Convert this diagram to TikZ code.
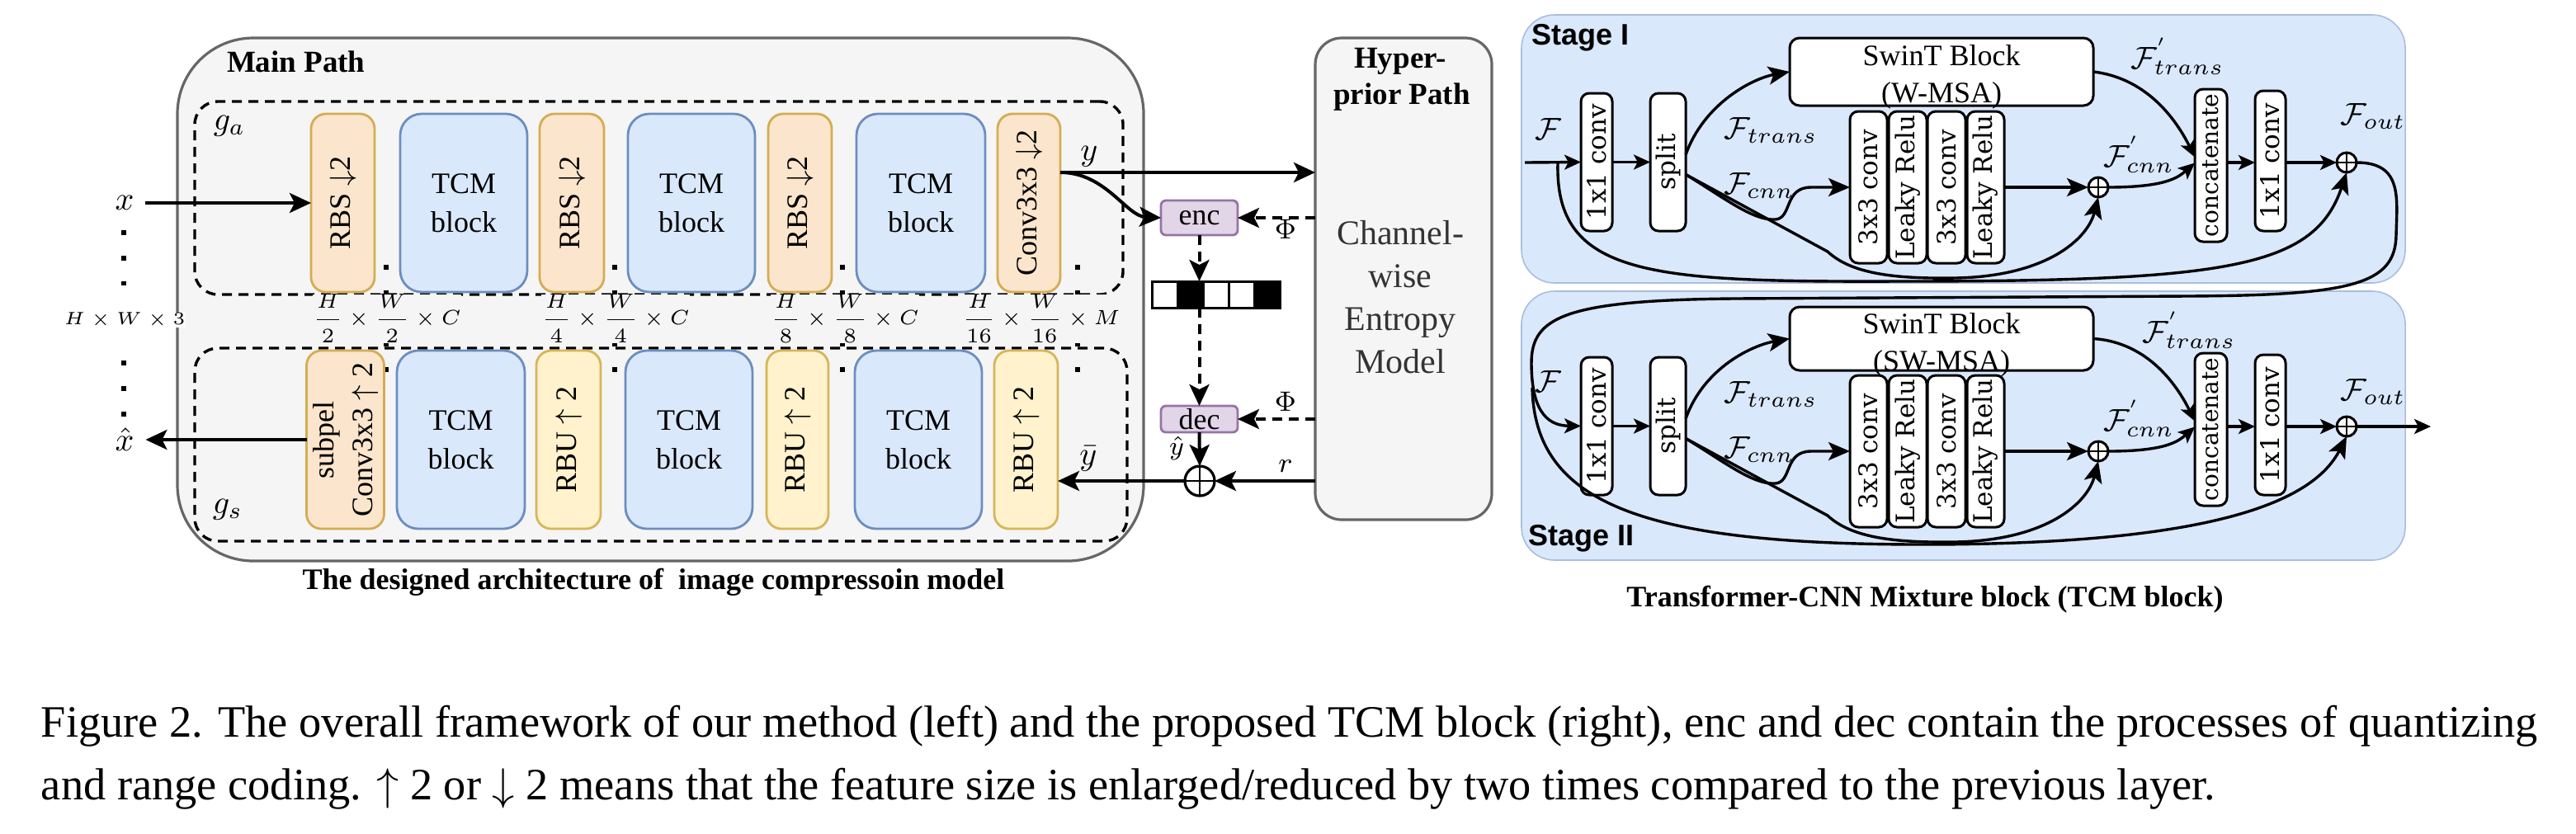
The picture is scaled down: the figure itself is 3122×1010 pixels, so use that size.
\RequirePackage{fix-cm}
\documentclass[tikz,border=0pt]{standalone}
\usepackage[no-math]{fontspec}
\setmainfont{Liberation Serif}
\newfontfamily\dvsfont{DejaVu Serif}
\newfontfamily\lsansfont{Liberation Sans}
\usetikzlibrary{arrows.meta,calc}
\definecolor{mainfill}{HTML}{F5F5F5}
\definecolor{maindraw}{HTML}{666666}
\definecolor{rbsf}{HTML}{FBE5CC}
\definecolor{rbsd}{HTML}{D5AC52}
\definecolor{rbuf}{HTML}{FFF2CC}
\definecolor{rbud}{HTML}{D6B656}
\definecolor{tcmf}{HTML}{DAE8FC}
\definecolor{tcmd}{HTML}{6C8EBF}
\definecolor{encf}{HTML}{E1D5E7}
\definecolor{encd}{HTML}{9673A6}
\definecolor{stf}{HTML}{DAE8FC}
\definecolor{std}{HTML}{A9BEDD}
\definecolor{txtg}{HTML}{333333}
\newcommand{\fnine}{\fontsize{9}{11.75}\selectfont}
\newcommand{\bx}[7]{\node[#6, minimum width={((#4)-(#2))*0.25pt}, minimum height={((#5)-(#3))*0.25pt}] (#1) at ({((#2)+(#4))/2},{((#3)+(#5))/2}) {#7};}
\tikzset{
 every node/.style={inner sep=0pt, outer sep=0pt},
 outerbox/.style={draw=maindraw, fill=mainfill, line width=0.8pt, rounded corners=23pt},
 dbox/.style={draw=black, line width=0.85pt, dash pattern=on 3pt off 2pt, rounded corners=7pt},
 rbsbox/.style={draw=rbsd, fill=rbsf, line width=0.7pt, rounded corners=4.5pt, font=\fnine},
 rbubox/.style={draw=rbud, fill=rbuf, line width=0.7pt, rounded corners=4.5pt, font=\fnine},
 tcmbox/.style={draw=tcmd, fill=tcmf, line width=0.7pt, rounded corners=6.5pt, font=\fnine, align=center},
 encbox/.style={draw=encd, fill=encf, line width=0.7pt, rounded corners=1.5pt, font=\fnine},
 hypbox/.style={draw=maindraw, fill=mainfill, line width=0.8pt, rounded corners=8pt},
 stagebox/.style={draw=std, fill=stf, line width=0.4pt, rounded corners=10pt},
 sbox/.style={draw=black, fill=white, line width=0.75pt, rounded corners=2.5pt, font=\dvsfont\fontsize{7.75}{9}\selectfont},
 swbox/.style={draw=black, fill=white, line width=0.75pt, rounded corners=3pt},
 pls/.style={circle, draw=black, fill=white, line width=0.75pt, minimum size=6pt,
   path picture={\draw[line width=0.6pt] (path picture bounding box.north) -- (path picture bounding box.south) (path picture bounding box.west) -- (path picture bounding box.east);}},
 bigpls/.style={pls, minimum size=9pt, line width=0.8pt},
 mlbl/.style={font=\fontsize{10}{12}\selectfont},
 flbl/.style={font=\fontsize{9.5}{11}\selectfont},
 dimlbl/.style={font=\fontsize{6.25}{7.5}\selectfont, fill=mainfill},
 arr/.style={line width=1pt, -{Stealth[length=6.5pt,width=6pt,inset=1.5pt]}},
 darr/.style={arr, dash pattern=on 3pt off 2pt},
 sarr/.style={line width=0.85pt, -{Stealth[length=5pt,width=4.5pt,inset=1.2pt]}},
 sarrb/.style={line width=0.85pt, -{Stealth[length=6.5pt,width=5.5pt,inset=1.5pt]}},
 dotcol/.style={line width=1.4pt, dash pattern=on 1.4pt off 6.35pt},
 capbf/.style={font=\bfseries\fontsize{9}{11}\selectfont},
 hyptxt/.style={font=\fontsize{10.5}{12}\selectfont, text=txtg, anchor=base},
 hypbf/.style={font=\bfseries\fontsize{9.25}{11}\selectfont, anchor=base},
 stlbl/.style={font=\lsansfont\bfseries\fontsize{9}{10}\selectfont, anchor=base west},
}
% #1 suffix, #2 vertical offset, #3 second SwinT line, #4 text offset, #5 SwinT top, #6 SwinT bottom
\newcommand{\stagecontent}[6]{%
\begin{scope}[shift={(0,#2)}]
\bx{ca#1}{1916}{113}{1954}{280}{sbox}{\rotatebox{90}{1x1 conv}}
\bx{sp#1}{2000}{113}{2043}{280}{sbox}{\rotatebox{90}{split}}
\bx{sw#1}{2169}{#5}{2537}{#6}{swbox}{}
\node[font=\fontsize{9}{11.25}\selectfont, align=center] (swt#1) at (2353,{(#5+#6)/2+#4}) {SwinT Block\\#3};
\bx{c1#1}{2242}{135}{2287}{319}{sbox}{\rotatebox{90}{3x3 conv}}
\bx{l1#1}{2289}{135}{2335}{319}{sbox}{\rotatebox{90}{Leaky Relu}}
\bx{c2#1}{2336}{135}{2382}{319}{sbox}{\rotatebox{90}{3x3 conv}}
\bx{l2#1}{2384}{135}{2429}{319}{sbox}{\rotatebox{90}{Leaky Relu}}
\bx{cc#1}{2660}{108}{2699}{293}{sbox}{\rotatebox{90}{\fontsize{7}{8}\selectfont concatenate}}
\bx{cb#1}{2733}{110}{2770}{280}{sbox}{\rotatebox{90}{1x1 conv}}
\node[pls] (p1#1) at (2543,227) {};
\node[pls] (p2#1) at (2844,197) {};
\node[flbl] (ftr#1) at (2146,158) {$\mathcal{F}_{trans}$};
\node[flbl] (fcn#1) at (2132,225) {$\mathcal{F}_{cnn}$};
\node[flbl] (fcp#1) at (2592,187) {$\mathcal{F}^{'}_{cnn}$};
\draw[sarr] (ca#1.east) -- (sp#1.west);
\draw[sarrb] ($(sp#1.east)+(0,-9)$) .. controls +(22,-62) and +(-45,8) .. (sw#1.west);
\draw[sarrb] ($(sp#1.east)+(0,15)$) .. controls (2090,240) and (2125,268) .. (2152,266) .. controls (2172,264) and (2162,227) .. (2195,227) -- (c1#1.west);
\draw[sarrb] ($(sp#1.east)+(0,15)$) -- (2215,305) .. controls (2245,333) and (2300,338) .. (2370,337) .. controls (2480,335) and (2530,290) .. (p1#1.south);
\draw[sarrb] (l2#1.east) -- (p1#1.west);
\draw[sarr] (p1#1.east) .. controls (2625,227) and (2640,215) .. ($(cc#1.west)+(0,-3)$);
\draw[sarr] (sw#1.east) .. controls (2605,95) and (2640,150) .. ($(cc#1.west)+(0,-10)$);
\draw[sarr] (cc#1.east |- p2#1.west) -- (cb#1.west |- p2#1.west);
\draw[sarr] (cb#1.east |- p2#1.west) -- (p2#1.west);
\end{scope}}
\begin{document}
\begin{tikzpicture}[x=0.25pt,y=-0.25pt]
\fill[white] (0,0) rectangle (3122,1010);
\useasboundingbox (0,0) rectangle (3122,1010);
% ---------- main path ----------
\bx{mainp}{215}{46}{1386}{680}{outerbox}{}
\node[font=\bfseries\fontsize{9.25}{11}\selectfont, anchor=base west] (mpl) at (275,87) {Main Path};
\bx{gab}{236}{123}{1361}{357}{dbox}{}
\bx{gsb}{236}{422}{1366}{656}{dbox}{}
\node[mlbl] (ga) at (278,153) {$g_a$};
\node[mlbl] (gs) at (276,618) {$g_s$};
\foreach \cx in {468,745,1021,1306} \draw[dotcol] (\cx,321) -- (\cx,452);
\draw[dotcol] (150,279) -- (150,346);
\draw[dotcol] (150,437) -- (150,505);
\node[dimlbl] (d1) at (469,386) {$\displaystyle\frac{H}{2}\times\frac{W}{2}\times C$};
\node[dimlbl] (d2) at (746,386) {$\displaystyle\frac{H}{4}\times\frac{W}{4}\times C$};
\node[dimlbl] (d3) at (1024,386) {$\displaystyle\frac{H}{8}\times\frac{W}{8}\times C$};
\node[dimlbl] (d4) at (1262,386) {$\displaystyle\frac{H}{16}\times\frac{W}{16}\times M$};
\node[font=\fontsize{5.4}{6.5}\selectfont, fill=white] (hw3) at (151,388) {$H\times W\times 3$};
% top row
\bx{rbsA}{377}{138}{454}{354}{rbsbox}{\rotatebox{90}{RBS $\downarrow$2}}
\bx{tcmA}{485}{138}{639}{354}{tcmbox}{TCM\\block}
\bx{rbsB}{654}{138}{732}{354}{rbsbox}{\rotatebox{90}{RBS $\downarrow$2}}
\bx{tcmB}{761}{138}{915}{354}{tcmbox}{TCM\\block}
\bx{rbsC}{931}{138}{1008}{354}{rbsbox}{\rotatebox{90}{RBS $\downarrow$2}}
\bx{tcmC}{1038}{138}{1194}{354}{tcmbox}{TCM\\block}
\bx{conv}{1209}{138}{1285}{354}{rbsbox}{\rotatebox{90}{Conv3x3 $\downarrow$2}}
% bottom row
\bx{subp}{374}{425}{463}{641}{rbsbox}{\rotatebox{90}{\begin{tabular}{@{}c@{}}subpel\\Conv3x3 $\uparrow$ 2\end{tabular}}}
\bx{tcmD}{481}{425}{636}{641}{tcmbox}{TCM\\block}
\bx{rbuA}{650}{425}{728}{641}{rbubox}{\rotatebox{90}{RBU $\uparrow$ 2}}
\bx{tcmE}{758}{425}{912}{641}{tcmbox}{TCM\\block}
\bx{rbuB}{929}{425}{1004}{641}{rbubox}{\rotatebox{90}{RBU $\uparrow$ 2}}
\bx{tcmF}{1036}{425}{1190}{641}{tcmbox}{TCM\\block}
\bx{rbuC}{1205}{425}{1282}{641}{rbubox}{\rotatebox{90}{RBU $\uparrow$ 2}}
% in / out
\node[mlbl, inner xsep=3.5pt] (xl) at (151,246) {$x$};
\node[mlbl, inner xsep=3.5pt] (xh) at (151,533) {$\hat{x}$};
\draw[arr] (xl.east) -- (rbsA.west);
\draw[arr] (subp.west) -- (xh.east);
% hyperprior
\bx{hyper}{1594}{46}{1808}{630}{hypbox}{}
\node[hypbf] (hp1) at (1697,82) {Hyper-};
\node[hypbf] (hp2) at (1699,126) {prior Path};
\node[hyptxt] (ce1) at (1697,296) {Channel-};
\node[hyptxt] (ce2) at (1697,348) {wise};
\node[hyptxt] (ce3) at (1697,400) {Entropy};
\node[hyptxt] (ce4) at (1697,452) {Model};
\bx{enc}{1407}{243}{1500}{285}{encbox}{enc}
\bx{dec}{1407}{492}{1500}{524}{encbox}{dec}
\bx{b1}{1396}{341}{1427}{373}{draw=black,line width=0.75pt,fill=white}{}
\bx{b2}{1427}{341}{1458}{373}{draw=black,line width=0.75pt,fill=black}{}
\bx{b3}{1458}{341}{1489}{373}{draw=black,line width=0.75pt,fill=white}{}
\bx{b4}{1489}{341}{1520}{373}{draw=black,line width=0.75pt,fill=white}{}
\bx{b5}{1520}{341}{1551}{373}{draw=black,line width=0.75pt,fill=black}{}
\node[bigpls] (pl) at (1454,583) {};
\coordinate (ypt) at ($(conv.east)+(0,-37)$);
\draw[arr] (ypt) -- (ypt -| hyper.west);
\draw[arr] (ypt) .. controls (1340,209) and (1365,262) .. (enc.west);
\node[mlbl] (yl) at (1320,190) {$y$};
\draw[darr] (hyper.west |- enc.east) -- (enc.east);
\node[font=\fontsize{8.5}{10}\selectfont] (phi1) at (1558,278) {$\Phi$};
\draw[darr] (enc.south) -- (enc.south |- b2.north);
\draw[darr] (enc.south |- b2.south) -- (dec.north);
\draw[darr] (hyper.west |- dec.east) -- (dec.east);
\node[font=\fontsize{8.5}{10}\selectfont] (phi2) at (1558,487) {$\Phi$};
\draw[arr] (dec.south) -- (pl.north);
\node[font=\fontsize{8}{9}\selectfont] (yhl) at (1426,543) {$\hat{y}$};
\draw[arr] (hyper.west |- pl.east) -- (pl.east);
\node[font=\fontsize{8.5}{10}\selectfont] (rl) at (1558,565) {$r$};
\draw[arr] (pl.west) -- (pl.west -| rbuC.east);
\node[mlbl] (ybl) at (1319,556) {$\bar{y}$};
\node[capbf] (cap1) at (792,706) {The designed architecture of~ image compressoin model};
% ---------- TCM block ----------
\bx{stA}{1844}{18}{2915}{343}{stagebox}{}
\bx{stB}{1844}{353}{2915}{679}{stagebox}{}
\node[stlbl] (sl1) at (1856,54) {Stage I};
\node[stlbl] (sl2) at (1852,661) {Stage II};
\stagecontent{A}{0}{(W-MSA)}{6}{46}{128}
\stagecontent{B}{320}{(SW-MSA)}{7.5}{52}{129}
\node[flbl] (fA) at (1876,156) {$\mathcal{F}$};
\node[flbl] (fB) at (1876,462) {$\mathcal{F}$};
\node[flbl] (ftpA) at (2639,68) {$\mathcal{F}^{'}_{trans}$};
\node[flbl] (ftpB) at (2653,400) {$\mathcal{F}^{'}_{trans}$};
\node[flbl] (foA) at (2876,141) {$\mathcal{F}_{out}$};
\node[flbl] (foB) at (2876,475) {$\mathcal{F}_{out}$};
\coordinate (inA) at (1848,197);
\draw[sarr] (inA) -- (caA.west);
\coordinate (brA) at (1888,197);
\draw[sarrb] (brA) .. controls (1884,335) and (2000,342) .. (2300,341) .. controls (2700,341) and (2805,325) .. (p2A.south);
\draw[sarr] (p2A.east) .. controls (2912,197) and (2905,240) .. (2904,285) .. controls (2903,345) and (2850,358) .. (2650,359) -- (2100,362) .. controls (1895,364) and (1856,385) .. (1856,440) .. controls (1856,505) and (1880,516) .. (caB.west);
\coordinate (brB) at (1857,470);
\draw[sarrb] (brB) .. controls (1860,610) and (1990,660) .. (2330,660) .. controls (2660,660) and (2800,615) .. (p2B.south);
\coordinate (outB) at (2946,517);
\draw[sarr] (p2B.east) -- (outB);
\node[capbf] (cap2) at (2333,727) {Transformer-CNN Mixture block (TCM block)};
% ---------- figure caption ----------
\node[font=\fontsize{13.6}{16}\selectfont, anchor=base west] (fc1) at (50,893) {Figure 2. The overall framework of our method (left) and the proposed TCM block (right), enc and dec contain the processes of quantizing};
\node[font=\fontsize{13.6}{16}\selectfont, anchor=base west] (fc2) at (50,969) {and range coding. $\uparrow$ 2 or $\downarrow$ 2 means that the feature size is enlarged/reduced by two times compared to the previous layer.};
\end{tikzpicture}
\end{document}
